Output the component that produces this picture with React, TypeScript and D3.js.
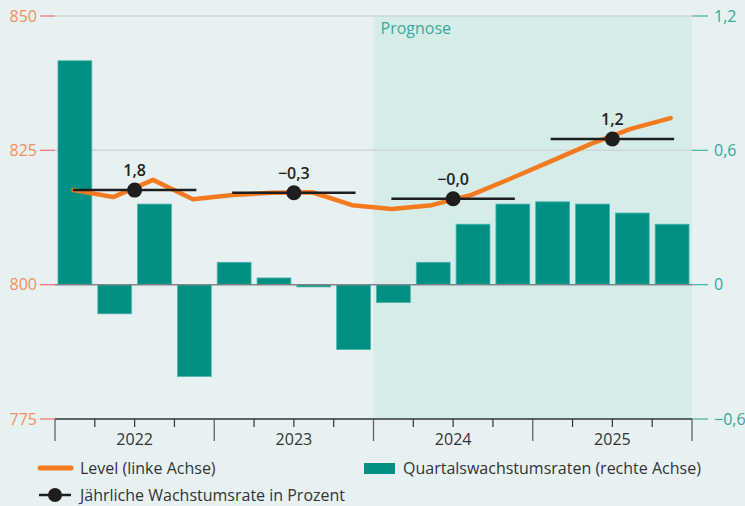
import React from "react";
import * as d3 from "d3";

const years = ["2022", "2023", "2024", "2025"];
const quarters = years.flatMap((y) => ["Q1", "Q2", "Q3", "Q4"].map((q) => `${y}${q}`));
const quarterlyGrowth = [1.0, -0.13, 0.36, -0.41, 0.1, 0.03, -0.01, -0.29, -0.08, 0.1, 0.27, 0.36, 0.37, 0.36, 0.32, 0.27];
const level = [817.6, 816.3, 819.5, 815.9, 816.7, 817.1, 817.2, 814.8, 814.1, 814.8, 816.7, 819.8, 823.0, 826.2, 829.0, 831.0];
const annualLevel = [817.6, 817.1, 816.0, 827.1];
const annualLabels = ["1,8", "\u22120,3", "\u22120,0", "1,2"];
const leftTicks = [775, 800, 825, 850];
const rightTicks = [-0.6, 0, 0.6, 1.2];
const rightTickLabels = ["\u22120,6", "0", "0,6", "1,2"];
const forecastStartYear = "2024";

const W = 745, H = 506;
const L = 55, R = 692, T = 16, B = 419;
const FONT = "'Open Sans', 'DejaVu Sans', sans-serif";
const FS = 16;

export default function App() {
  const x = d3.scaleBand<string>().domain(quarters).range([L, R]).paddingInner(0.15).paddingOuter(0.075);
  const xq = d3.scaleBand<string>().domain(quarters).range([L, R]);
  const xy = d3.scaleBand<string>().domain(years).range([L, R]);
  const yL = d3.scaleLinear().domain([775, 850]).range([B, T]);
  const yR = d3.scaleLinear().domain([-0.6, 1.2]).range([B, T]);
  const cx = (q: string) => (xq(q) as number) + xq.bandwidth() / 2;

  const line = d3.line<number>().x((_, i) => cx(quarters[i]) - 1.5).y((d) => yL(d)).curve(d3.curveLinear);

  const fx0 = xy(forecastStartYear) as number;

  return (
    <svg width={W} height={H} style={{ position: "absolute", left: 0, top: 0, fontFamily: FONT }}>
      <rect x={0} y={0} width={W} height={H} fill="#e8f1f2" />
      <rect x={fx0} y={T} width={R - fx0} height={B - T} fill="#d6ece8" />
      <text x={fx0 + 7} y={T + 18} fill="#3aa99a" fontSize={FS}>Prognose</text>

      {/* gridlines */}
      {leftTicks.filter((t) => t !== 775 && t !== 800).map((t) => (
        <line key={t} x1={L} x2={R} y1={yL(t)} y2={yL(t)} stroke="#cfd6d8" strokeWidth={1.5} />
      ))}

      {/* left axis ticks */}
      {leftTicks.map((t) => (
        <g key={t}>
          <line x1={40} x2={55} y1={yL(t)} y2={yL(t)} stroke="#f07070" strokeWidth={1.2} />
          <text x={37} y={yL(t)} dy="0.35em" textAnchor="end" fill="#f0905a" fontSize={FS}>{t}</text>
        </g>
      ))}
      {/* right axis ticks */}
      {rightTicks.map((t, i) => (
        <g key={t}>
          <line x1={R} x2={708} y1={yR(t)} y2={yR(t)} stroke="#3fb3a4" strokeWidth={1.2} />
          <text x={714} y={yR(t)} dy="0.35em" textAnchor="start" fill="#2fa89a" fontSize={FS}>{rightTickLabels[i]}</text>
        </g>
      ))}

      {/* bars */}
      {quarters.map((q, i) => {
        const v = quarterlyGrowth[i];
        const y0 = yR(Math.max(0, v));
        const h = Math.abs(yR(v) - yR(0));
        return <rect key={q} x={x(q)} y={y0} width={x.bandwidth()} height={h} fill="#009084" stroke="#4db3a8" strokeWidth={0.8} />;
      })}

      {/* zero line */}
      <line x1={L} x2={R} y1={yR(0)} y2={yR(0)} stroke="#7d8587" strokeWidth={1.5} />

      {/* level line */}
      <path d={line(level) as string} fill="none" stroke="#f47a20" strokeWidth={4.5} strokeLinejoin="round" strokeLinecap="round" />

      {/* annual growth markers */}
      {years.map((yr, i) => {
        const qs = quarters.filter((q) => q.startsWith(yr));
        const x1 = cx(qs[0]) - 2;
        const x2 = cx(qs[3]) + 2;
        const mx = (xy(yr) as number) + xy.bandwidth() / 2;
        const yy = yL(annualLevel[i]);
        return (
          <g key={yr}>
            <line x1={x1} x2={x2} y1={yy} y2={yy} stroke="#1e1e1e" strokeWidth={2.5} />
            <circle cx={mx} cy={yy} r={7.5} fill="#1e1e1e" />
            <text x={mx} y={yy - 14} textAnchor="middle" fill="#222" fontSize={FS} fontWeight={600}>{annualLabels[i]}</text>
          </g>
        );
      })}

      {/* bottom axis */}
      <line x1={L} x2={R} y1={B} y2={B} stroke="#333" strokeWidth={1.5} />
      {quarters.map((q, i) => (
        i % 4 === 0 ? null : <line key={q} x1={xq(q)} x2={xq(q)} y1={B} y2={B + 8} stroke="#333" strokeWidth={1.2} />
      ))}
      {[...years.map((y) => xy(y) as number), R].map((v, i) => (
        <line key={i} x1={v} x2={v} y1={B} y2={B + 22} stroke="#555" strokeWidth={1.2} />
      ))}
      {years.map((yr) => (
        <text key={yr} x={(xy(yr) as number) + xy.bandwidth() / 2} y={B + 20} dy="0.35em" textAnchor="middle" fill="#333" fontSize={FS}>{yr}</text>
      ))}

      {/* legend */}
      <line x1={40} x2={71} y1={468} y2={468} stroke="#f47a20" strokeWidth={5} strokeLinecap="round" />
      <text x={80} y={468} dy="0.35em" fill="#333" fontSize={FS}>Level (linke Achse)</text>
      <line x1={39} x2={71} y1={495} y2={495} stroke="#1e1e1e" strokeWidth={2.5} />
      <circle cx={55} cy={495} r={7} fill="#1e1e1e" />
      <text x={80} y={495} dy="0.35em" fill="#333" fontSize={FS}>Jährliche Wachstumsrate in Prozent</text>
      <rect x={364} y={463} width={31} height={11} fill="#009084" />
      <text x={403} y={468} dy="0.35em" fill="#333" fontSize={FS}>Quartalswachstumsraten (rechte Achse)</text>
    </svg>
  );
}
